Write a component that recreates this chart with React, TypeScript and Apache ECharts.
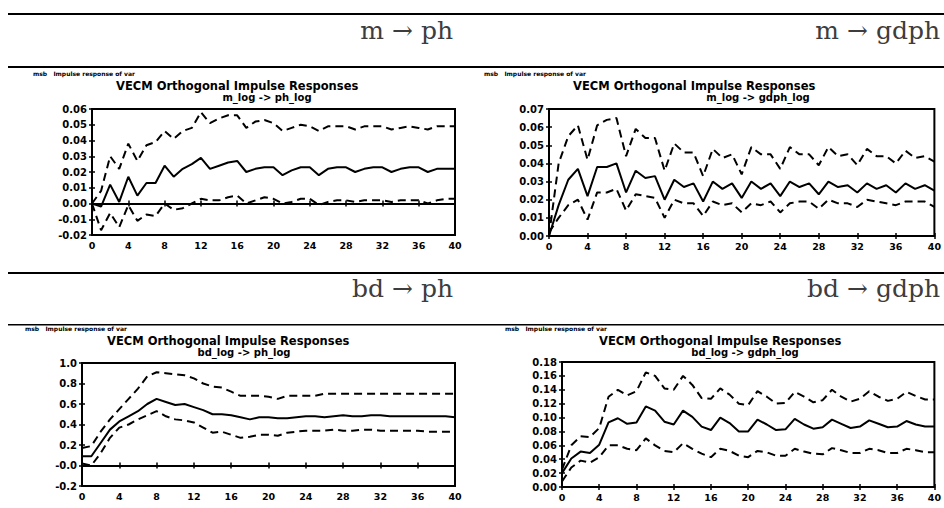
import React, { useEffect, useRef } from "react";
import * as echarts from "echarts";

// Horizons (x categories) and tick labels
const horizons = [0,1,2,3,4,5,6,7,8,9,10,11,12,13,14,15,16,17,18,19,20,21,22,23,24,25,26,27,28,29,30,31,32,33,34,35,36,37,38,39,40];
const xTicks = [0,4,8,12,16,20,24,28,32,36,40];

const headers = ["m \u2192 ph", "m \u2192 gdph", "bd \u2192 ph", "bd \u2192 gdph"];
const subtitles = ["m_log -> ph_log", "m_log -> gdph_log", "bd_log -> ph_log", "bd_log -> gdph_log"];
const plotTitle = "VECM Orthogonal Impulse Responses";
const noteText = "msb   Impulse response of var";

// m -> ph
const mPhIrf = [0.000,-0.002,0.012,0.001,0.017,0.005,0.013,0.013,0.024,0.017,0.022,0.025,0.029,0.022,0.024,0.026,0.027,0.020,0.022,0.023,0.023,0.018,0.021,0.023,0.023,0.018,0.022,0.023,0.023,0.020,0.022,0.023,0.023,0.020,0.022,0.023,0.023,0.020,0.022,0.022,0.022];
const mPhUp = [0.000,0.008,0.030,0.022,0.038,0.027,0.037,0.039,0.046,0.041,0.046,0.048,0.058,0.051,0.054,0.056,0.056,0.048,0.052,0.053,0.051,0.046,0.048,0.050,0.049,0.046,0.049,0.049,0.049,0.047,0.049,0.049,0.049,0.047,0.048,0.049,0.048,0.047,0.049,0.049,0.049];
const mPhLo = [0.000,-0.017,-0.006,-0.015,-0.001,-0.011,-0.007,-0.008,0.000,-0.004,-0.003,0.000,0.003,0.002,0.002,0.004,0.005,0.000,0.002,0.004,0.003,0.000,0.001,0.003,0.003,-0.001,0.001,0.002,0.002,0.001,0.002,0.002,0.002,0.001,0.002,0.002,0.002,0.000,0.002,0.003,0.003];

// m -> gdph
const mGdpIrf = [0.000,0.017,0.031,0.037,0.022,0.038,0.038,0.040,0.024,0.036,0.032,0.033,0.020,0.031,0.027,0.029,0.019,0.030,0.026,0.029,0.021,0.030,0.026,0.029,0.022,0.030,0.027,0.029,0.023,0.030,0.027,0.028,0.024,0.029,0.026,0.028,0.024,0.029,0.026,0.028,0.025];
const mGdpUp = [0.000,0.040,0.055,0.061,0.042,0.061,0.064,0.065,0.044,0.059,0.054,0.054,0.036,0.051,0.046,0.046,0.033,0.048,0.043,0.045,0.034,0.049,0.045,0.045,0.037,0.049,0.045,0.045,0.039,0.049,0.044,0.045,0.039,0.048,0.044,0.044,0.040,0.047,0.043,0.044,0.041];
const mGdpLo = [0.002,0.010,0.017,0.020,0.009,0.024,0.024,0.026,0.014,0.023,0.022,0.021,0.010,0.020,0.018,0.018,0.011,0.019,0.017,0.018,0.013,0.018,0.017,0.019,0.013,0.018,0.019,0.019,0.015,0.020,0.018,0.018,0.016,0.020,0.019,0.018,0.017,0.019,0.019,0.019,0.016];

// bd -> ph
const bdPhIrf = [0.09,0.09,0.22,0.35,0.43,0.48,0.53,0.60,0.65,0.62,0.59,0.60,0.57,0.54,0.50,0.50,0.49,0.47,0.45,0.47,0.47,0.46,0.46,0.47,0.48,0.48,0.47,0.48,0.49,0.48,0.48,0.49,0.49,0.48,0.48,0.48,0.48,0.48,0.48,0.48,0.47];
const bdPhUp = [0.17,0.19,0.33,0.45,0.55,0.65,0.75,0.87,0.91,0.90,0.89,0.88,0.85,0.80,0.77,0.76,0.72,0.68,0.68,0.68,0.67,0.65,0.68,0.68,0.68,0.68,0.70,0.70,0.70,0.70,0.70,0.70,0.70,0.70,0.70,0.70,0.70,0.70,0.70,0.70,0.70];
const bdPhLo = [0.02,0.00,0.12,0.27,0.37,0.40,0.45,0.49,0.53,0.48,0.45,0.44,0.42,0.37,0.32,0.33,0.30,0.27,0.28,0.30,0.30,0.29,0.32,0.33,0.34,0.34,0.34,0.35,0.34,0.34,0.35,0.35,0.34,0.34,0.34,0.34,0.34,0.33,0.33,0.33,0.33];

// bd -> gdph
const bdGdpIrf = [0.020,0.041,0.051,0.049,0.061,0.093,0.099,0.091,0.093,0.116,0.110,0.094,0.090,0.110,0.101,0.087,0.082,0.100,0.092,0.080,0.080,0.097,0.090,0.082,0.083,0.098,0.090,0.084,0.086,0.097,0.091,0.085,0.087,0.096,0.091,0.086,0.087,0.095,0.090,0.087,0.087];
const bdGdpUp = [0.025,0.060,0.073,0.072,0.085,0.130,0.140,0.132,0.138,0.165,0.160,0.142,0.140,0.160,0.147,0.128,0.127,0.142,0.133,0.120,0.118,0.138,0.130,0.120,0.121,0.137,0.130,0.122,0.125,0.140,0.130,0.123,0.127,0.138,0.130,0.124,0.127,0.137,0.131,0.126,0.126];
const bdGdpLo = [0.008,0.028,0.038,0.035,0.043,0.060,0.060,0.055,0.053,0.070,0.060,0.052,0.050,0.063,0.055,0.048,0.043,0.055,0.052,0.045,0.043,0.052,0.050,0.045,0.045,0.055,0.051,0.048,0.047,0.056,0.053,0.049,0.049,0.055,0.053,0.049,0.049,0.055,0.053,0.050,0.050];

// Y axis ranges / tick labels
const yRanges = [
  { min: -0.02, max: 0.06, interval: 0.01, digits: 2 },
  { min: 0, max: 0.07, interval: 0.01, digits: 2 },
  { min: -0.2, max: 1.0, interval: 0.2, digits: 1 },
  { min: 0, max: 0.18, interval: 0.02, digits: 2 },
];
const zeroLine = [true, false, true, false];

const seriesSets = [
  [mPhIrf, mPhUp, mPhLo],
  [mGdpIrf, mGdpUp, mGdpLo],
  [bdPhIrf, bdPhUp, bdPhLo],
  [bdGdpIrf, bdGdpUp, bdGdpLo],
];

// Layout (pixels)
const frames = [
  { l: 92, r: 455, t: 109, b: 235 },
  { l: 549, r: 937, t: 109, b: 236 },
  { l: 82, r: 455, t: 363, b: 486 },
  { l: 562, r: 937, t: 362, b: 487 },
];
const headerPos = [
  { x: 453, y: 43 },
  { x: 940, y: 43 },
  { x: 453, y: 301 },
  { x: 940, y: 301 },
];
const titlePos = [
  { tx: 116, ty: 86, sx: 267, sy: 97, nx: 33, ny: 73 },
  { tx: 573, ty: 86, sx: 758, sy: 97, nx: 484, ny: 73 },
  { tx: 107, ty: 341, sx: 244, sy: 352, nx: 25, ny: 328 },
  { tx: 599, ty: 341, sx: 745, sy: 352, nx: 505, ny: 328 },
];

const FONT = "DejaVu Sans";

function fmt(v: number, digits: number) {
  if (Math.abs(v) < 1e-9) return digits === 1 ? "-0.0" : "0.00";
  return v.toFixed(digits);
}

function buildOption() {
  const grid: any[] = [];
  const xAxis: any[] = [];
  const yAxis: any[] = [];
  const series: any[] = [];
  frames.forEach((f, i) => {
    grid.push({
      left: f.l, top: f.t, width: f.r - f.l, height: f.b - f.t,
      show: true, borderColor: "#000", borderWidth: 2, backgroundColor: "#fff",
    });
    const tickStyle = { show: true, inside: true, length: 3, lineStyle: { color: "#000", width: 1.5 } };
    xAxis.push({
      type: "value", gridIndex: i, min: 0, max: 40, interval: 4, position: "bottom",
      axisLine: { show: false }, splitLine: { show: false }, axisTick: tickStyle,
      axisLabel: { color: "#000", fontSize: 9.5, fontWeight: "bold", fontFamily: FONT, margin: 5,
        formatter: (v: number) => (xTicks.indexOf(v) >= 0 ? String(v) : "") },
    });
    xAxis.push({
      type: "value", gridIndex: i, min: 0, max: 40, interval: 4, position: "top",
      axisLine: { show: false }, splitLine: { show: false }, axisTick: tickStyle,
      axisLabel: { show: false },
    });
    const yr = yRanges[i];
    yAxis.push({
      type: "value", gridIndex: i, min: yr.min, max: yr.max, interval: yr.interval, position: "left",
      axisLine: { show: false }, splitLine: { show: false }, axisTick: tickStyle,
      axisLabel: { color: "#000", fontSize: 10, fontWeight: "bold", fontFamily: FONT, margin: 5,
        formatter: (v: number) => fmt(v, yr.digits) },
    });
    yAxis.push({
      type: "value", gridIndex: i, min: yr.min, max: yr.max, interval: yr.interval, position: "right",
      axisLine: { show: false }, splitLine: { show: false }, axisTick: tickStyle,
      axisLabel: { show: false },
    });
    const [irf, up, lo] = seriesSets[i];
    const mk = (arr: number[]) => horizons.map((h, k) => [h, arr[k]]);
    series.push({
      type: "line", xAxisIndex: 2 * i, yAxisIndex: 2 * i, data: mk(irf), showSymbol: false,
      lineStyle: { color: "#000", width: 2 }, z: 3,
      markLine: zeroLine[i]
        ? { silent: true, symbol: ["none", "none"], label: { show: false },
            lineStyle: { color: "#000", width: 2, type: "solid" }, data: [{ yAxis: 0 }] }
        : undefined,
    });
    [up, lo].forEach((arr) => {
      series.push({
        type: "line", xAxisIndex: 2 * i, yAxisIndex: 2 * i, data: mk(arr), showSymbol: false,
        lineStyle: { color: "#000", width: 2, type: [8, 5] }, z: 2,
      });
    });
  });

  const graphic: any[] = [];
  // table rules
  const rules = [
    { y: 13, h: 2 }, { y: 66, h: 2 }, { y: 272, h: 2 }, { y: 324, h: 1.5 },
  ];
  rules.forEach((r) => graphic.push({ type: "rect", shape: { x: 8, y: r.y, width: 936, height: r.h }, style: { fill: "#000" }, z: 10 }));
  headers.forEach((h, i) => {
    graphic.push({
      type: "text", x: headerPos[i].x, y: headerPos[i].y,
      style: { text: h, fill: "#3d3d3d", font: "25px 'DejaVu Serif'", textAlign: "right", textVerticalAlign: "bottom" },
    });
  });
  titlePos.forEach((p, i) => {
    graphic.push({ type: "text", x: p.tx, y: p.ty,
      style: { text: plotTitle, fill: "#000", font: `bold 11.5px '${FONT}'`, textAlign: "left", textVerticalAlign: "middle" } });
    graphic.push({ type: "text", x: p.sx, y: p.sy,
      style: { text: subtitles[i], fill: "#000", font: `bold 10px '${FONT}'`, textAlign: "center", textVerticalAlign: "middle" } });
    graphic.push({ type: "text", x: p.nx, y: p.ny,
      style: { text: noteText, fill: "#000", font: `bold 6px '${FONT}'`, textAlign: "left", textVerticalAlign: "middle" } });
  });

  return { animation: false, backgroundColor: "#fff", grid, xAxis, yAxis, series, graphic };
}

export default function App() {
  const ref = useRef<HTMLDivElement>(null);
  useEffect(() => {
    const chart = echarts.init(ref.current!, null, { renderer: "svg" });
    chart.setOption(buildOption() as any);
    return () => chart.dispose();
  }, []);
  return (
    <div
      ref={ref}
      style={{ position: "fixed", left: 0, top: 0, width: 944, height: 508, background: "#fff" }}
    />
  );
}
